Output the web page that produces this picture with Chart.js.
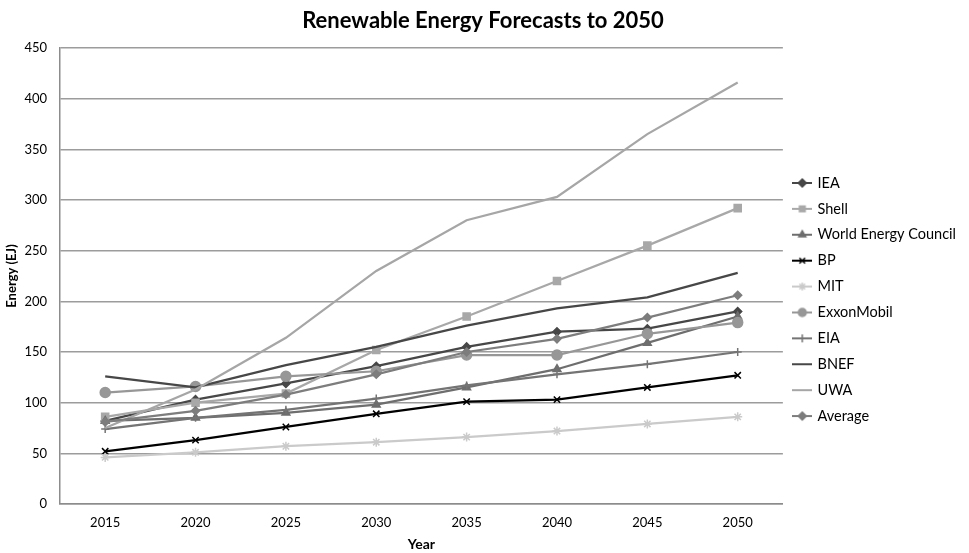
<!DOCTYPE html>
<html><head><meta charset="utf-8">
<script src="https://cdn.jsdelivr.net/npm/chart.js@4.4.1/dist/chart.umd.min.js"></script>
<style>html,body{margin:0;padding:0;background:#fff;}#wrap{width:969px;height:553px;}</style>
</head><body><div id="wrap"><canvas id="c" width="969" height="553"></canvas></div>
<script>
const years = ['2015','2020','2025','2030','2035','2040','2045','2050'];
const seriesNames = ['IEA','Shell','World Energy Council','BP','MIT','ExxonMobil','EIA','BNEF','UWA','Average'];
const iea        = [82, 103, 119, 136, 155, 170, 173, 190];
const shell      = [86, 100, 109, 152, 185, 220, 255, 292];
const wec        = [82, 85, 90, 98, 115, 133, 159, 185];
const bp         = [52, 63, 76, 89, 101, 103, 115, 127];
const mit        = [46, 51, 57, 61, 66, 72, 79, 86];
const exxonMobil = [110, 116, 126, 131, 147, 147, 168, 179];
const eia        = [74, 85, 93, 104, 117, 128, 138, 150];
const bnef       = [126, 115, 137, 155, 176, 193, 204, 228];
const uwa        = [75, 113, 164, 230, 280, 303, 365, 416];
const average    = [81, 92, 108, 128, 150, 163, 184, 206];
const seriesValues = [iea, shell, wec, bp, mit, exxonMobil, eia, bnef, uwa, average];

const styles = [
  {color:'#474747', point:'rectRot', r:4},
  {color:'#a8a8a8', point:'rect', r:5},
  {color:'#6e6e6e', point:'triangle', r:4.5},
  {color:'#000000', point:'crossRot', r:4.5},
  {color:'#cacaca', point:'star', r:4.5},
  {color:'#979797', point:'circle', r:5},
  {color:'#747474', point:'cross', r:4},
  {color:'#474747', point:'circle', r:0},
  {color:'#a6a6a6', point:'circle', r:0},
  {color:'#7d7d7d', point:'rectRot', r:4}
];

const FONT = 'Lato, "Open Sans", "DejaVu Sans", sans-serif';

function glyph(st){
  const c = document.createElement('canvas');
  c.width = 20; c.height = 12;
  const g = c.getContext('2d');
  g.strokeStyle = st.color; g.lineWidth = 2;
  g.beginPath(); g.moveTo(0,6); g.lineTo(20,6); g.stroke();
  if (st.r > 0 && Chart.helpers && Chart.helpers.drawPoint) {
    g.fillStyle = st.color; g.strokeStyle = st.color; g.lineWidth = 1.5;
    Chart.helpers.drawPoint(g, {pointStyle: st.point, radius: Math.min(st.r, 4), borderWidth: 1.5, rotation: 0}, 10, 6);
  }
  return c;
}

const datasets = seriesNames.map((name, i) => ({
  label: name,
  data: seriesValues[i],
  borderColor: styles[i].color,
  backgroundColor: styles[i].color,
  borderWidth: 2.25,
  pointStyle: styles[i].point,
  pointRadius: styles[i].r,
  pointHoverRadius: styles[i].r,
  pointBorderWidth: 1.5,
  tension: 0,
  fill: false,
  order: seriesNames.length - i
}));

new Chart(document.getElementById('c'), {
  type: 'line',
  data: { labels: years, datasets },
  options: {
    responsive: false,
    animation: false,
    layout: { padding: { top: 0, right: 3, left: 0, bottom: 0 } },
    plugins: {
      tooltip: { enabled: false },
      title: {
        display: true,
        text: 'Renewable Energy Forecasts to 2050',
        color: '#000',
        font: { family: FONT, size: 22, weight: 'bold' },
        padding: { top: 8, bottom: 13.6 }
      },
      legend: {
        position: 'right',
        align: 'center',
        fullSize: false,
        title: { display: true, text: ' ', font: { size: 10 }, padding: { top: 35, bottom: 0 } },
        labels: {
          usePointStyle: true,
          pointStyleWidth: 16,
          boxHeight: 12,
          padding: 11.4,
          color: '#000',
          font: { family: FONT, size: 14.5 },
          generateLabels: (chart) => chart.data.datasets.map((ds, i) => ({
            text: ds.label,
            pointStyle: glyph(styles[i]),
            fillStyle: styles[i].color,
            strokeStyle: styles[i].color,
            fontColor: '#000',
            lineWidth: 0,
            hidden: false,
            datasetIndex: i
          }))
        }
      }
    },
    scales: {
      x: {
        type: 'category',
        offset: true,
        grid: { display: false, drawTicks: false },
        border: { display: true, color: '#8c8c8c', width: 1.5 },
        ticks: { color: '#000', font: { family: FONT, size: 13 }, padding: 11, maxRotation: 0 },
        title: { display: true, text: 'Year', color: '#000', font: { family: FONT, size: 14, weight: 'bold' }, padding: { top: 0, bottom: 0 } },
        afterFit: (s) => { s.height = 49; }
      },
      y: {
        min: 0, max: 450,
        ticks: { stepSize: 50, color: '#000', font: { family: FONT, size: 13 }, padding: 13 },
        grid: { color: '#9c9c9c', lineWidth: 1.5, drawTicks: false },
        border: { display: true, color: '#8c8c8c', width: 1.5 },
        title: { display: true, text: 'Energy (EJ)', color: '#000', font: { family: FONT, size: 13, weight: 'bold' }, padding: { top: 4, bottom: 0 } },
        afterFit: (s) => { s.width = 60; }
      }
    }
  }
});
</script></body></html>
